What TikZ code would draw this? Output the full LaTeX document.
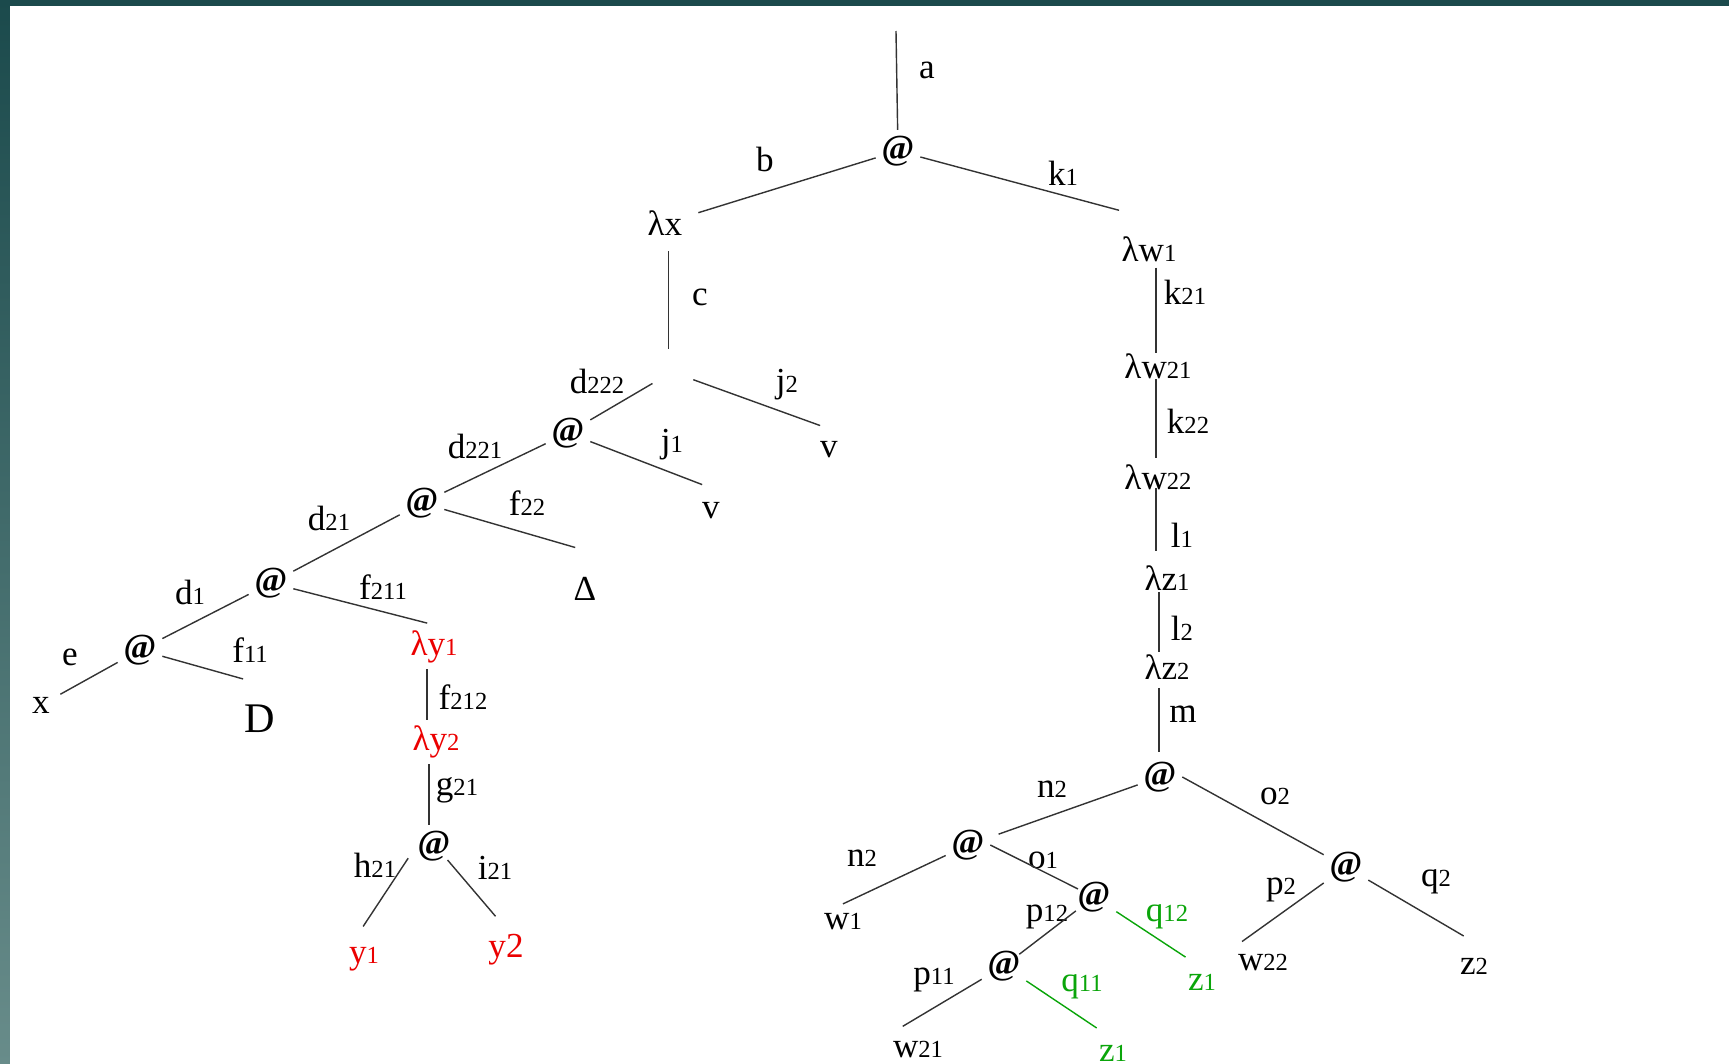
\documentclass[tikz,border=0pt]{standalone}
\usepackage{fontspec}
\setmainfont{Liberation Serif}

\definecolor{framedark}{RGB}{27,74,76}
\definecolor{framelight}{RGB}{104,140,138}
\definecolor{redex}{RGB}{235,0,0}
\definecolor{shared}{RGB}{10,165,10}

% small index digits, sitting on the baseline
\newcommand{\dg}[1]{{\fontsize{7}{8}\selectfont #1}}
\newcommand{\app}{\textbf{@}}

\tikzset{
  tm/.style={inner sep=1.5pt},
  redtm/.style={tm, text=redex},
  greentm/.style={tm, text=shared},
  lab/.style={inner sep=0pt},
  ln/.style={draw=black!80, line width=0.4pt},
}

\begin{document}
\begin{tikzpicture}[x=0.1mm, y=-0.1mm, font=\fontsize{10}{12}\selectfont]
  \useasboundingbox (0,0) rectangle (1729,1064);
  % slide frame
  \shade[top color=framedark, bottom color=framelight] (0,0) rectangle (10,1064);
  \fill[framedark] (0,0) rectangle (1729,6);

  % terms
  \coordinate (start) at (896,31);
  \coordinate (axis) at (1156,0);
  \node[tm] (root) at (898,151) {\app};
  \node[tm] (lx) at (665,223) {λx};
  \node[tm] (lw1) at (1149,249) {λw\dg{1}};
  \node[circle, minimum size=12.5pt, inner sep=0pt] (hub) at (672,372) {};
  \node[tm] (a1) at (568,433) {\app};
  \node[tm] (a2) at (422,503) {\app};
  \node[tm] (a3) at (271,583) {\app};
  \node[tm] (a4) at (140,650) {\app};
  \node[tm] (va) at (829,450) {v};
  \node[tm] (vb) at (711,511) {v};
  \node[tm] (delta) at (585,589) {Δ};
  \node[tm] (xx) at (41,705) {x};
  \node[tm, font=\fontsize{12}{13}\selectfont] (dd) at (260,719) {D};
  \node[redtm] (ly1) at (434,647) {λy\dg{1}};
  \node[redtm] (ly2) at (436,742) {λy\dg{2}};
  \node[tm] (a5) at (434,846) {\app};
  \node[redtm] (y1) at (364,959) {y\dg{1}};
  \node[redtm] (y2) at (506,950) {y2};

  \node[tm] (lw21) at (1158,366) {λw\dg{21}};
  \node[tm] (lw22) at (1158,477) {λw\dg{22}};
  \node[tm] (lz1) at (1167,578) {λz\dg{1}};
  \node[tm] (lz2) at (1167,667) {λz\dg{2}};
  \node[tm] (b1) at (1160,777) {\app};
  \node[tm] (b2) at (968,845) {\app};
  \node[tm] (b3) at (1094,897) {\app};
  \node[tm] (b4) at (1004,966) {\app};
  \node[tm] (b5) at (1346,867) {\app};
  \node[tm] (w1) at (843,922) {w\dg{1}};
  \node[tm] (w21) at (918,1050) {w\dg{21}};
  \node[greentm] (z1a) at (1202,982) {z\dg{1}};
  \node[greentm] (z1b) at (1113,1053) {z\dg{1}};
  \node[tm] (w22) at (1263,963) {w\dg{22}};
  \node[tm] (z2) at (1474,966) {z\dg{2}};

  % edge names
  \node[lab] (la) at (927,70) {a};
  \node[lab] (lb) at (765,159) {b};
  \node[lab] (lk1) at (1063,173) {k\dg{1}};
  \node[lab] (lc) at (700,297) {c};
  \node[lab] (lj2) at (787,385) {j\dg{2}};
  \node[lab] (ld222) at (597,381) {d\dg{222}};
  \node[lab] (lj1) at (672,445) {j\dg{1}};
  \node[lab] (ld221) at (475,446) {d\dg{221}};
  \node[lab] (lf22) at (527,503) {f\dg{22}};
  \node[lab] (ld21) at (329,518) {d\dg{21}};
  \node[lab] (lf211) at (383,587) {f\dg{211}};
  \node[lab] (ld1) at (190,592) {d\dg{1}};
  \node[lab] (lf11) at (250,650) {f\dg{11}};
  \node[lab] (le) at (70,657) {e};
  \node[lab] (lf212) at (463,697) {f\dg{212}};
  \node[lab] (lg21) at (457,790) {g\dg{21}};
  \node[lab] (lh21) at (375,865) {h\dg{21}};
  \node[lab] (li21) at (495,868) {i\dg{21}};
  \node[lab] (lk21) at (1185,292) {k\dg{21}};
  \node[lab] (lk22) at (1188,421) {k\dg{22}};
  \node[lab] (ll1) at (1182,535) {l\dg{1}};
  \node[lab] (ll2) at (1182,628) {l\dg{2}};
  \node[lab] (lm) at (1183,714) {m};
  \node[lab] (ln2) at (1052,789) {n\dg{2}};
  \node[lab] (lo2) at (1275,796) {o\dg{2}};
  \node[lab] (ln2b) at (862,858) {n\dg{2}};
  \node[lab] (lo1) at (1043,860) {o\dg{1}};
  \node[lab] (lp12) at (1047,917) {p\dg{12}};
  \node[lab, text=shared] (lq12) at (1167,917) {q\dg{12}};
  \node[lab] (lp11) at (934,980) {p\dg{11}};
  \node[lab, text=shared] (lq11) at (1082,987) {q\dg{11}};
  \node[lab] (lp2) at (1281,890) {p\dg{2}};
  \node[lab] (lq2) at (1436,882) {q\dg{2}};

  % left part
  \draw[ln] (start) -- (root);
  \draw[ln, shorten >=3pt] (root) -- (lx);
  \draw[ln, shorten >=-1pt] (root) -- ([yshift=6pt]lw1.north west);
  \draw[ln, shorten <=2.8pt] ([xshift=1pt]lx.south) -- ([xshift=1pt]lx.south |- hub.north);
  \draw[ln] (hub) -- (a1);
  \draw[ln, shorten >=2.7pt] (hub) -- ([yshift=2pt]va.north);
  \draw[ln] (a1) -- (a2);
  \draw[ln, shorten >=2.7pt] (a1) -- ([yshift=2.5pt]vb.north);
  \draw[ln] (a2) -- (a3);
  \draw[ln, shorten >=2.9pt] (a2) -- ([yshift=6pt]delta.north);
  \draw[ln] (a3) -- (a4);
  \draw[ln, shorten >=2pt] (a3) -- (ly1.north);
  \draw[ln, shorten >=1.5pt] (a4) -- (xx);
  \draw[ln, shorten >=5pt] (a4) -- ([yshift=4.4pt]dd.north);
  \draw[ln] ([xshift=-2pt]ly1.south) -- ([xshift=-2pt]ly1.south |- ly2.north);
  \draw[ln] ([xshift=-2pt]ly2.south) -- ([xshift=-2pt]ly2.south |- a5.north);
  \draw[ln, shorten >=5pt] ([xshift=-1pt, yshift=2.5pt]a5.south west) -- ([xshift=-3pt]y1.north);
  \draw[ln, shorten >=4.6pt] ([xshift=-2.5pt, yshift=2pt]a5.south east) -- (y2.north);

  % right part
  \draw[ln, shorten >=-1.6pt] (lw1.south -| axis) -- (lw21.north -| axis);
  \draw[ln, shorten <=-1.5pt] (lw21.south -| axis) -- (lw22.north -| axis);
  \draw[ln, shorten <=-2.2pt, shorten >=2.5pt] (lw22.south -| axis) -- (lz1.north -| axis);
  \draw[ln, shorten <=-1.2pt, shorten >=-1pt] ([xshift=0.8pt]lz1.south -| axis) -- ([xshift=0.8pt]lz2.north -| axis);
  \draw[ln, shorten <=0.7pt, shorten >=1.1pt] ([xshift=0.8pt]lz2.south -| axis) -- ([xshift=0.8pt]b1.north -| axis);
  \draw[ln, shorten >=2.5pt] (b1) -- (b2);
  \draw[ln] (b1.east) -- (b5);
  \draw[ln] (b2) -- ([yshift=1.1pt]w1.north);
  \draw[ln, shorten >=-2pt] (b2.east) -- (b3);
  \draw[ln, shorten <=-1.5pt, shorten >=-2.5pt] (b3) -- (b4);
  \draw[ln, draw=shared, shorten >=5.6pt] (b3) -- (z1a.north);
  \draw[ln, shorten >=5.2pt] (b4) -- (w21.north west);
  \draw[ln, draw=shared, shorten >=5.6pt] (b4) -- (z1b.north);
  \draw[ln, shorten >=3.5pt] (b5) -- (w22.north west);
  \draw[ln, shorten >=3.4pt] (b5) -- ([yshift=2.8pt]z2.north);
\end{tikzpicture}
\end{document}
